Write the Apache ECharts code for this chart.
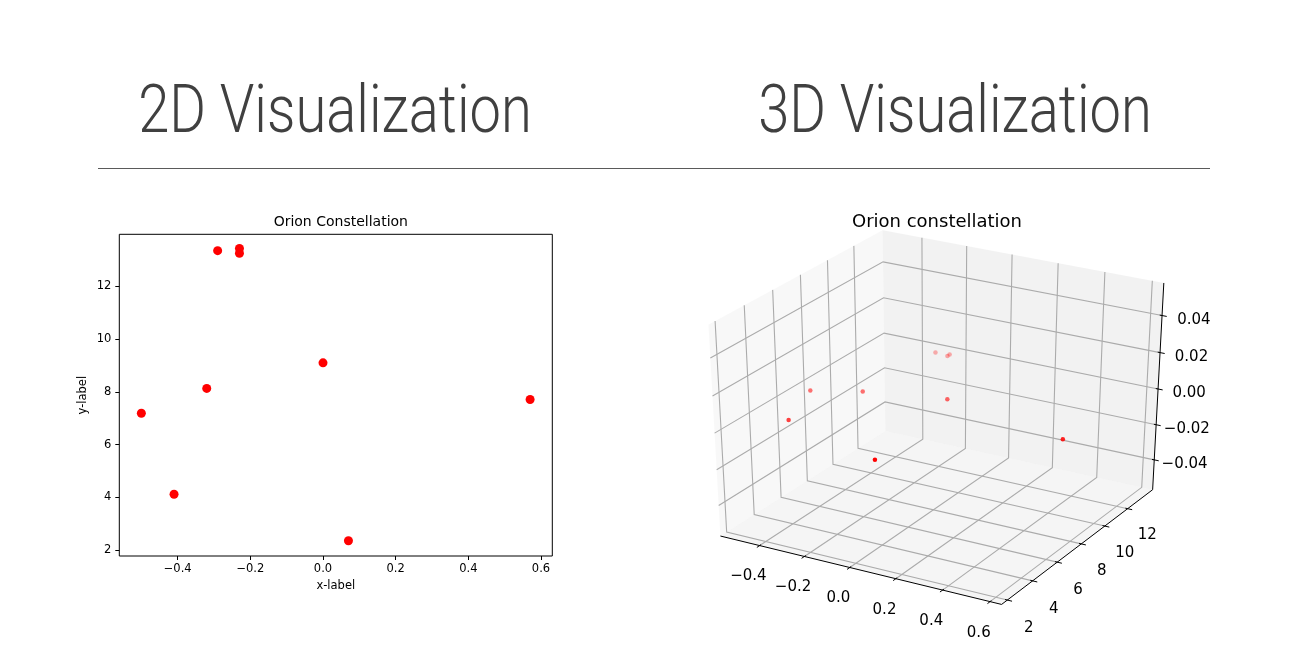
<!DOCTYPE html>
<html><head><meta charset="utf-8">
<script src="https://cdn.jsdelivr.net/npm/echarts@6/dist/echarts.min.js"></script>
<style>html,body{margin:0;padding:0;background:#fff}#c{width:1304px;height:661px}</style>
</head><body><div id="c"></div>
<script>
// ---- data: Orion constellation ----
const xValues = [-0.41, 0.57, 0.07, 0.00, -0.29, -0.32, -0.50, -0.23, -0.23];
const yValues = [4.12, 7.71, 2.36, 9.10, 13.35, 8.13, 7.19, 13.25, 13.43];
const zValues = [0, 0, 0, 0, 0, 0, 0, 0, 0];
// ---- ticks / limits ----
const xTicks2D = [-0.4, -0.2, 0.0, 0.2, 0.4, 0.6];
const yTicks2D = [2, 4, 6, 8, 10, 12];
const xLim2D = [-0.5607, 0.6311];
const yLim2D = [1.78, 13.97];
const xTicks3D = [-0.4, -0.2, 0.0, 0.2, 0.4, 0.6];
const yTicks3D = [2, 4, 6, 8, 10, 12];
const zTicks3D = [-0.04, -0.02, 0.00, 0.02, 0.04];
const xLim3D = [-0.5535, 0.6235];
const yLim3D = [1.8065, 13.9835];
const zLim3D = [-0.055, 0.055];

const MINUS = '\u2212';
const fmt = (v, d) => (v < -1e-12 ? MINUS : '') + Math.abs(v).toFixed(d);

// ---- 3D projection (matplotlib-like: elev 30, azim -60, dist 10, perspective) ----
const ELEV = 30, AZIM = -60, DIST = 10;
const er = ELEV * Math.PI / 180, ar = AZIM * Math.PI / 180;
const nv = [Math.cos(er) * Math.cos(ar), Math.cos(er) * Math.sin(ar), Math.sin(er)];
let uv = [-nv[1], nv[0], 0];
const ul = Math.hypot(uv[0], uv[1]); uv = [uv[0] / ul, uv[1] / ul, 0];
const vv = [nv[1] * uv[2] - nv[2] * uv[1], nv[2] * uv[0] - nv[0] * uv[2], nv[0] * uv[1] - nv[1] * uv[0]];
const dot = (a, b) => a[0] * b[0] + a[1] * b[1] + a[2] * b[2];
function projN(p) {
  const d = [p[0] - 0.5, p[1] - 0.5, p[2] - 0.5];
  const w = DIST - dot(nv, d);
  return [dot(uv, d) / w, dot(vv, d) / w, -DIST / w];
}
const nrm = (v, lim) => (v - lim[0]) / (lim[1] - lim[0]);
const LO = -1 / 48, HI = 1 + 1 / 48;
const BX = nv[0] > 0 ? LO : HI, FX = BX === LO ? HI : LO;
const BY = nv[1] > 0 ? LO : HI, FY = BY === LO ? HI : LO;
const BZ = nv[2] > 0 ? LO : HI, FZ = BZ === LO ? HI : LO;

// projected scatter points with depth shading
const proj3 = xValues.map((x, i) => projN([nrm(x, xLim3D), nrm(yValues[i], yLim3D), nrm(zValues[i], zLim3D)]));
const depths = proj3.map(p => p[2]);
const dMin = Math.min(...depths), dMax = Math.max(...depths);
const scatter3D = proj3.map(p => ({
  value: [p[0], p[1]],
  itemStyle: { opacity: 1 - 0.7 * ((p[2] - dMin) / ((dMax - dMin) || 1)) }
}));

const FONT3 = '15px "DejaVu Sans"';
function renderAxes3D(params, api) {
  const ch = [];
  const P = (x, y, z) => { const q = projN([x, y, z]); return api.coord([q[0], q[1]]); };
  const poly = (pts, fill) => ch.push({ type: 'polygon', shape: { points: pts.map(p => P(p[0], p[1], p[2])) }, style: { fill: fill, stroke: null } });
  poly([[BX, LO, LO], [BX, HI, LO], [BX, HI, HI], [BX, LO, HI]], 'rgba(242,242,242,0.5)');
  poly([[LO, BY, LO], [HI, BY, LO], [HI, BY, HI], [LO, BY, HI]], 'rgba(230,230,230,0.5)');
  poly([[LO, LO, BZ], [HI, LO, BZ], [HI, HI, BZ], [LO, HI, BZ]], 'rgba(236,236,236,0.5)');
  const gridStyle = { stroke: '#ababab', lineWidth: 1.1, fill: null };
  const pl = (pts) => ch.push({ type: 'polyline', shape: { points: pts.map(p => P(p[0], p[1], p[2])) }, style: gridStyle });
  xTicks3D.forEach(t => { const a = nrm(t, xLim3D); pl([[a, FY, BZ], [a, BY, BZ], [a, BY, FZ]]); });
  yTicks3D.forEach(t => { const a = nrm(t, yLim3D); pl([[BX, a, FZ], [BX, a, BZ], [FX, a, BZ]]); });
  zTicks3D.forEach(t => { const a = nrm(t, zLim3D); pl([[FX, BY, a], [BX, BY, a], [BX, FY, a]]); });
  const ln = (p1, p2) => { const a = P(...p1), b = P(...p2); ch.push({ type: 'line', shape: { x1: a[0], y1: a[1], x2: b[0], y2: b[1] }, style: { stroke: '#000', lineWidth: 1 } }); };
  ln([LO, FY, BZ], [HI, FY, BZ]);
  ln([FX, LO, BZ], [FX, HI, BZ]);
  ln([FX, BY, LO], [FX, BY, HI]);
  const TD = 1 / 12, OUT = 0.2 * TD, IN = 0.1 * TD, LD = 0.1;
  const sgn = (f, b) => (f > b ? 1 : -1);
  const sY = sgn(FY, BY), sX = sgn(FX, BX), sZ = sgn(BZ, FZ);
  const txt = (p, s, dx, dy) => { const a = P(...p); ch.push({ type: 'text', x: a[0] + dx, y: a[1] + dy, style: { text: s, font: FONT3, fill: '#000', align: 'center', verticalAlign: 'middle' } }); };
  xTicks3D.forEach(t => {
    const a = nrm(t, xLim3D);
    ln([a, FY + sY * OUT, BZ], [a, FY - sY * IN, BZ]);
    txt([a, FY + sY * LD, BZ + sZ * LD], fmt(t, 1), 4.7, -0.2);
  });
  yTicks3D.forEach(t => {
    const a = nrm(t, yLim3D);
    ln([FX + sX * OUT, a, BZ], [FX - sX * IN, a, BZ]);
    txt([FX + sX * LD, a, BZ + sZ * LD], String(t), -6.4, 1.8);
  });
  zTicks3D.forEach(t => {
    const a = nrm(t, zLim3D);
    ln([FX + sX * OUT, BY, a], [FX - sX * IN, BY, a]);
    txt([FX + sX * LD, BY + (BY > 0.5 ? 1 : -1) * LD, a], fmt(t, 2), -10, 8.5);
  });
  return { type: 'group', children: ch };
}

const chart = echarts.init(document.getElementById('c'), null, { renderer: 'canvas' });
const FONT = '"DejaVu Sans", sans-serif';
const HEAD_FONT = '300 66px Roboto, "Liberation Sans", sans-serif';
chart.setOption({
  backgroundColor: '#fff',
  animation: false,
  title: [
    { text: 'Orion Constellation', left: 335.8, top: 210, textAlign: 'center',
      textStyle: { fontFamily: FONT, fontSize: 14, fontWeight: 'normal', color: '#000' } },
    { text: 'Orion constellation', left: 932, top: 208, textAlign: 'center',
      textStyle: { fontFamily: FONT, fontSize: 18, fontWeight: 'normal', color: '#000' } }
  ],
  graphic: [
    { type: 'text', x: 335, y: 115, scaleX: 0.85, style: { text: '2D Visualization', font: HEAD_FONT, fill: '#404040', align: 'center', verticalAlign: 'middle' } },
    { type: 'text', x: 955, y: 115, scaleX: 0.85, style: { text: '3D Visualization', font: HEAD_FONT, fill: '#404040', align: 'center', verticalAlign: 'middle' } },
    { type: 'line', shape: { x1: 98, y1: 168.5, x2: 1210, y2: 168.5 }, style: { stroke: '#5a5a5a', lineWidth: 1 } }
  ],
  grid: [
    { left: 119.3, top: 234.3, width: 433, height: 321.7, show: true, borderColor: '#000', borderWidth: 1, backgroundColor: 'transparent' },
    { left: 644, top: 190.7, width: 592, height: 440, show: false }
  ],
  xAxis: [
    { type: 'value', gridIndex: 0, min: xLim2D[0], max: xLim2D[1], position: 'bottom',
      name: 'x-label', nameLocation: 'middle', nameGap: 24,
      nameTextStyle: { fontFamily: FONT, fontSize: 11.5, color: '#000' },
      axisLine: { show: false, onZero: false }, splitLine: { show: false },
      axisTick: { show: true, length: 4, lineStyle: { color: '#000' }, customValues: xTicks2D },
      axisLabel: { fontFamily: FONT, fontSize: 11.5, color: '#000', margin: 7, customValues: xTicks2D, formatter: v => fmt(v, 1) } },
    { type: 'value', gridIndex: 1, min: -0.095, max: 0.095, show: false }
  ],
  yAxis: [
    { type: 'value', gridIndex: 0, min: yLim2D[0], max: yLim2D[1], position: 'left',
      name: 'y-label', nameLocation: 'middle', nameGap: 30, nameRotate: 90,
      nameTextStyle: { fontFamily: FONT, fontSize: 11.5, color: '#000' },
      axisLine: { show: false, onZero: false }, splitLine: { show: false },
      axisTick: { show: true, length: 4, lineStyle: { color: '#000' }, customValues: yTicks2D },
      axisLabel: { fontFamily: FONT, fontSize: 11.5, color: '#000', margin: 8, customValues: yTicks2D, formatter: v => String(v) } },
    { type: 'value', gridIndex: 1, min: -0.095, max: 0.095, show: false }
  ],
  series: [
    { type: 'scatter', xAxisIndex: 0, yAxisIndex: 0, symbolSize: 9, itemStyle: { color: '#ff0000', opacity: 1 },
      data: xValues.map((x, i) => [x, yValues[i]]), z: 5 },
    { type: 'custom', xAxisIndex: 1, yAxisIndex: 1, silent: true, renderItem: renderAxes3D, data: [[0, 0]], z: 1 },
    { type: 'scatter', xAxisIndex: 1, yAxisIndex: 1, symbolSize: 4.5, itemStyle: { color: '#ff0000' },
      data: scatter3D, z: 5 }
  ]
});
</script>
</body></html>
